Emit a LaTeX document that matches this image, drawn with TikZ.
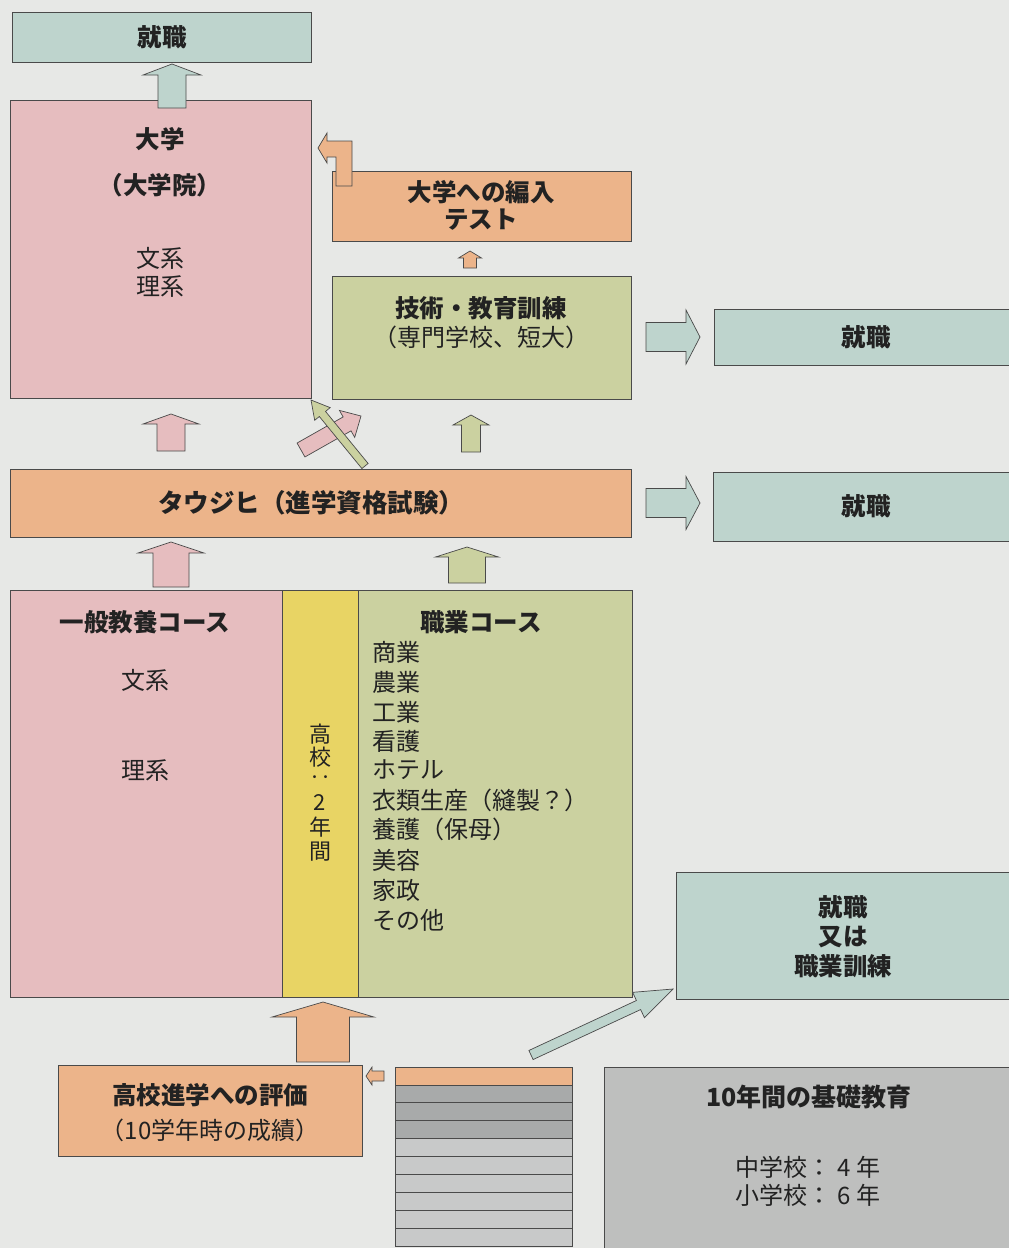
\documentclass[tikz,border=0pt]{standalone}
\usepackage{fontspec}
\setmainfont{Noto Sans CJK JP}
\usetikzlibrary{calc}
\definecolor{bg}{HTML}{E7E8E6}
\definecolor{teal}{HTML}{BED4CD}
\definecolor{pinkc}{HTML}{E6BDBF}
\definecolor{orangec}{HTML}{ECB48A}
\definecolor{greenc}{HTML}{CBD1A0}
\definecolor{yellowc}{HTML}{E8D464}
\definecolor{grayc}{HTML}{BEBFBE}
\definecolor{stripedark}{HTML}{A8AAAA}
\definecolor{stripelight}{HTML}{C8C9C9}
\definecolor{edge}{HTML}{4A4A4A}
\definecolor{ink}{HTML}{222222}
\newcommand\blockarrow[6]{%
  \filldraw[arrowsty,#1] let \p1=(#2), \p2=(#3),
    \n1={atan2(\y2-\y1,\x2-\x1)}, \n2={veclen(\x2-\x1,\y2-\y1)} in
    [shift={(\p1)}, rotate=\n1]
    (0pt,{-#4pt}) -- ({\n2-#6pt},{-#4pt}) -- ({\n2-#6pt},{-#5pt})
    -- ({\n2},0pt) -- ({\n2-#6pt},{#5pt}) -- ({\n2-#6pt},{#4pt})
    -- (0pt,{#4pt}) -- cycle;}
\begin{document}
\begin{tikzpicture}[x=1pt,y=-1pt,
  box/.style={draw=edge, line width=0.8pt, inner sep=0pt, outer sep=0pt, anchor=north west},
  arrowsty/.style={draw=edge, line width=0.7pt, line join=miter},
  gb/.style={font=\fontsize{24.5}{28}\selectfont\bfseries, inner sep=0pt, text=ink},
  mc/.style={font=\fontsize{24}{28}\selectfont, inner sep=0pt, text=ink},
  vt/.style={font=\fontsize{22}{26}\selectfont, inner sep=0pt, text=ink}]
\fill[bg] (0,0) rectangle (1009,1248);
\useasboundingbox (0,0) rectangle (1009,1248);
\clip (0,0) rectangle (1009,1248);

% boxes
\node[box, fill=teal, minimum width=299pt, minimum height=50pt] (shutop) at (12,12) {};
\node[box, fill=pinkc, minimum width=301pt, minimum height=298pt] (daigaku) at (10,100) {};
\node[box, fill=orangec, minimum width=299pt, minimum height=70pt] (hennyu) at (332,171) {};
\node[box, fill=greenc, minimum width=299pt, minimum height=123pt] (gijutsu) at (332,276) {};
\node[box, fill=teal, minimum width=310pt, minimum height=56pt] (shuA) at (714,309) {};
\node[box, fill=orangec, minimum width=621pt, minimum height=68pt] (taujihi) at (10,469) {};
\node[box, fill=teal, minimum width=310pt, minimum height=69pt] (shuB) at (713,472) {};
\node[box, fill=pinkc, minimum width=272pt, minimum height=407pt] (ippan) at (10,590) {};
\node[box, fill=yellowc, minimum width=76pt, minimum height=407pt] (kouko) at (282,590) {};
\node[box, fill=greenc, minimum width=274pt, minimum height=407pt] (shokugyo) at (358,590) {};
\node[box, fill=teal, minimum width=340pt, minimum height=127pt] (shuC) at (676,872) {};
\node[box, fill=orangec, minimum width=304pt, minimum height=91pt] (hyoka) at (58,1065) {};
\node[box, fill=grayc, minimum width=420pt, minimum height=190pt] (kiso) at (604,1067) {};
\foreach \i in {1,...,10}{
  \ifnum\i=1 \def\sc{orangec}\else\ifnum\i<5 \def\sc{stripedark}\else\def\sc{stripelight}\fi\fi
  \node[box, fill=\sc, minimum width=177pt, minimum height=17.9pt] (stripe\i) at (395,{1067+17.9*(\i-1)}) {};
}

% texts
\node[gb] (t-shutop) at (162,37) {就職};
\node[gb] (t-dai) at (160,139) {大学};
\node[gb] (t-daiin) at (160,185) {（大学院）};
\node[mc] (t-bun1) at (160,258) {文系};
\node[mc] (t-ri1) at (160,287) {理系};
\node[gb] (t-hen1) at (481,192) {大学への編入};
\node[gb] (t-hen2) at (481,220) {テスト};
\node[gb] (t-gi1) at (481,308) {技術・教育訓練};
\node[mc] (t-gi2) at (481,337) {（専門学校、短大）};
\node[gb] (t-shuA) at (866,337) {就職};
\node[gb] (t-shuB) at (866,506) {就職};
\node[gb, font=\fontsize{25.5}{29}\selectfont\bfseries] (t-tau) at (311,503) {タウジヒ（進学資格試験）};
\node[gb] (t-ippan) at (145,622) {一般教養コース};
\node[mc] (t-bun2) at (145,680) {文系};
\node[mc] (t-ri2) at (145,771) {理系};
\node[gb] (t-shoku) at (481,622) {職業コース};
\foreach \txt/\yy [count=\k] in {商業/652, 農業/682, 工業/712, 看護/741, ホテル/770, 衣類生産（縫製？）/800, 養護（保母）/829, 美容/860, 家政/890, その他/920}
  \node[mc, anchor=west] (voc\k) at (372,\yy) {\txt};
\foreach \ch/\yy [count=\k] in {高/734, 校/757, ‥/781, 2/803, 年/827, 間/852}
  \node[vt] (vert\k) at (320,\yy) {\ch};
\node[gb] (t-shuC1) at (843,907) {就職};
\node[gb] (t-shuC2) at (843,937) {又は};
\node[gb] (t-shuC3) at (843,966) {職業訓練};
\node[gb] (t-hyo1) at (210,1095) {高校進学への評価};
\node[mc] (t-hyo2) at (210,1130) {（10学年時の成績）};
\node[gb, font=\fontsize{25}{29}\selectfont\bfseries] (t-kiso) at (809,1097) {10年間の基礎教育};
\node[mc] (t-chu) at (808,1167) {中学校： 4 年};
\node[mc] (t-sho) at (808,1195) {小学校： 6 年};

% arrow end points
\coordinate (a1t) at (172,108); \coordinate (a1h) at (172,64);
\coordinate (a2t) at (470,268); \coordinate (a2h) at (470,251);
\coordinate (a3t) at (171,451); \coordinate (a3h) at (171,414);
\coordinate (a4t) at (471,452); \coordinate (a4h) at (471,415);
\coordinate (a5t) at (171,587); \coordinate (a5h) at (171,542);
\coordinate (a6t) at (467,583); \coordinate (a6h) at (467,547);
\coordinate (a7t) at (323,1062); \coordinate (a7h) at (323,1002);
\coordinate (a8t) at (384,1076); \coordinate (a8h) at (366,1076);
\coordinate (a9t) at (646,337); \coordinate (a9h) at (700,337);
\coordinate (a10t) at (646,503); \coordinate (a10h) at (700,503);
\coordinate (a11t) at (531,1055); \coordinate (a11h) at (673,989);
\coordinate (a12t) at (301,450); \coordinate (a12h) at (361,416);
\coordinate (a13t) at (365,466); \coordinate (a13h) at (311,400);

\blockarrow{fill=teal}{a1t}{a1h}{14}{29}{11}
\blockarrow{fill=orangec}{a2t}{a2h}{6.5}{11.5}{7}
\blockarrow{fill=pinkc}{a3t}{a3h}{14}{28}{10}
\blockarrow{fill=greenc}{a4t}{a4h}{9.5}{18}{10}
\blockarrow{fill=pinkc}{a5t}{a5h}{18}{33}{11}
\blockarrow{fill=greenc}{a6t}{a6h}{18.5}{31.5}{10}
\blockarrow{fill=orangec}{a7t}{a7h}{26.5}{51}{15}
\blockarrow{fill=orangec}{a8t}{a8h}{5}{9}{6}
\blockarrow{fill=teal}{a9t}{a9h}{14.5}{27}{14}
\blockarrow{fill=teal}{a10t}{a10h}{14.5}{26.5}{14}
\blockarrow{fill=teal}{a11t}{a11h}{5}{14}{38}
\blockarrow{fill=pinkc}{a12t}{a12h}{8}{15.5}{16}
\blockarrow{fill=greenc}{a13t}{a13h}{4}{10}{18}

% bent arrow from transfer test to university
\filldraw[arrowsty, fill=orangec] (352,186) -- (352,141) -- (327,141) -- (327,133) -- (318,148)
  -- (327,163) -- (327,157) -- (336,157) -- (336,186) -- cycle;
\end{tikzpicture}
\end{document}
